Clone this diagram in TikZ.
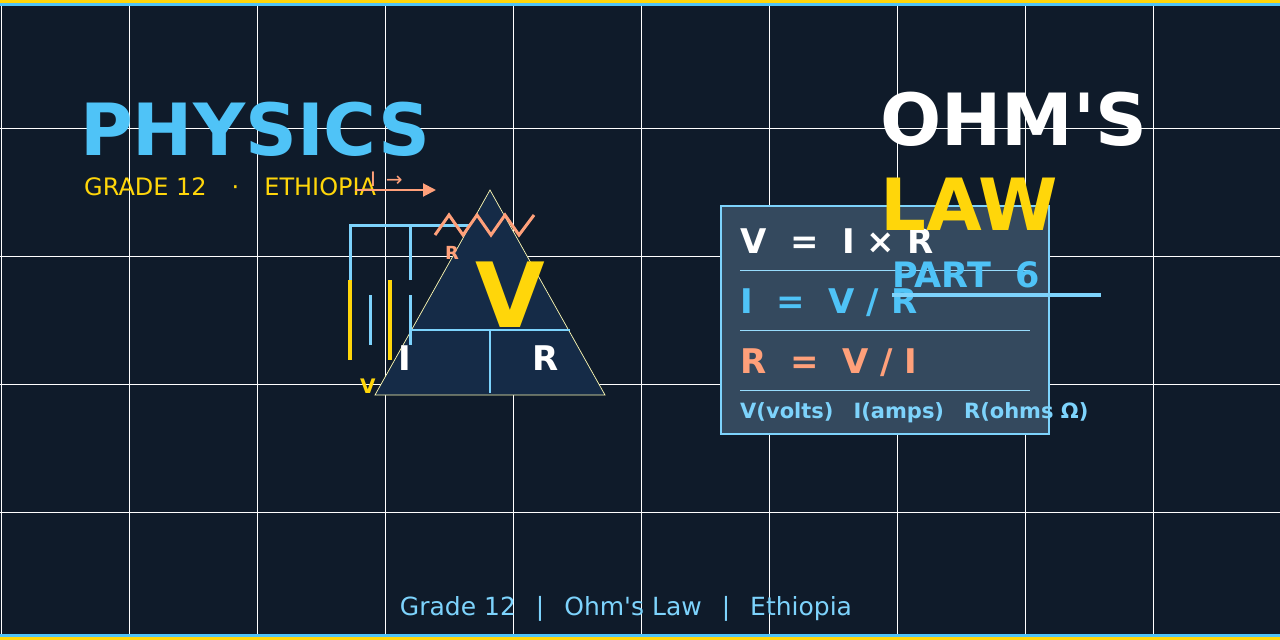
\documentclass[tikz,border=0pt]{standalone}
\usepackage{fontspec}
\setmainfont[Ligatures=TeXOff]{DejaVu Sans}
\usetikzlibrary{arrows.meta}
\definecolor{bg}{HTML}{0F1B2A}
\definecolor{yel}{HTML}{FFD60A}
\definecolor{sky}{HTML}{4FC3F7}
\definecolor{lsky}{HTML}{7DD3FC}
\definecolor{sal}{HTML}{FFA07A}
\definecolor{panel}{HTML}{34495E}
\definecolor{tri}{HTML}{152B47}
\begin{document}
\begin{tikzpicture}[x=1pt,y=-1pt,
  txt/.style={inner sep=0pt,anchor=base west},
  bf/.style={font=\bfseries\fontsize{#1}{#1}\selectfont},
  nf/.style={font=\fontsize{#1}{#1}\selectfont},
  wire/.style={draw=lsky,line width=3pt},
  rule/.style={draw=lsky!80!white,line width=1pt}]
\fill[bg] (0,0) rectangle (1280,640);
\useasboundingbox (0,0) rectangle (1280,640);
\foreach \x in {0,128,...,1152} \draw[white,line width=0.8pt] (\x+1,0) -- (\x+1,640);
\foreach \y in {128,256,384,512} \draw[white,line width=0.8pt] (0,\y) -- (1280,\y);
\fill[yel] (0,0) rectangle (1280,3);
\fill[sky] (0,3) rectangle (1280,6);
\fill[sky] (0,634) rectangle (1280,637);
\fill[yel] (0,637) rectangle (1280,640);
% titles
\node[txt,bf=72,text=sky] (phys) at (80,155) {PHYSICS};
\node[txt,nf=24,text=yel] (grade) at (84,195) {GRADE 12\hspace{25pt}·\hspace{25pt}ETHIOPIA};
% triangle
\coordinate (apex) at (490,190);
\coordinate (bl) at (375,395);
\coordinate (br) at (605,395);
\filldraw[fill=tri,draw=yellow!30!white,line width=0.7pt] (apex) -- (br) -- (bl) -- cycle;
\draw[wire,line width=2pt] (412,330) -- (570,330);
\draw[wire,line width=2pt] (490,330) -- (490,393);
\node[bf=90,text=yel,inner sep=0pt] (bigV) at (510,295) {V};
\node[txt,bf=34,text=white] (tI) at (398,370) {I};
\node[txt,bf=34,text=white] (tR) at (532,370) {R};
% circuit
\draw[wire] (350,280) -- (350,225) -- (470,225);
\draw[wire] (410,225) -- (410,280);
\draw[wire] (410,295) -- (410,345);
\draw[yel,line width=4pt] (350,280) -- (350,360);
\draw[yel,line width=4pt] (390,280) -- (390,360);
\draw[wire] (370,295) -- (370,345);
\draw[sal,line width=3pt] (435,235) -- (449,215) -- (463,235) -- (477,215) -- (491,235) -- (505,215) -- (519,235) -- (534,215);
\node[txt,bf=18,text=sal] (lR) at (445,259) {R};
\node[txt,bf=20,text=yel] (lV) at (360,393) {V};
\node[txt,nf=20,text=sal] (lI) at (370,186) {I \,→};
\coordinate (a1) at (355,190);
\coordinate (a2) at (436,190);
\draw[sal,line width=2pt,-{Triangle[length=13pt,width=13pt]}] (a1) -- (a2);
% panel
\filldraw[fill=panel,draw=lsky,line width=2pt] (721,206) rectangle (1049,434);
\node[txt,bf=34,text=white] (e1) at (740,253) {V\ \ =\ \ I × R};
\node[txt,bf=34,text=sky] (e2) at (740,313) {I\ \ =\ \ V / R};
\node[txt,bf=34,text=sal] (e3) at (740,373) {R\ \ =\ \ V / I};
\node[txt,bf=21,text=lsky] (e4) at (740,418) {V(volts)\hspace{20pt}I(amps)\hspace{20pt}R(ohms Ω)};
\foreach \y in {270,330,390} \draw[rule] (740,\y) -- (1030,\y);
% right titles
\node[txt,bf=72,text=white] (ohm) at (880,145) {OHM'S};
\node[txt,bf=72,text=yel] (law) at (880,230) {LAW};
\node[txt,bf=35,text=sky] (part) at (892,287) {PART\ \ 6};
\draw[lsky,line width=4pt] (892,295) -- (1101,295);
% footer
\node[nf=25,text=lsky,inner sep=0pt,anchor=base] (foot) at (626,615) {Grade 12\hspace{20pt}|\hspace{20pt}Ohm's Law\hspace{20pt}|\hspace{20pt}Ethiopia};
\end{tikzpicture}
\end{document}
